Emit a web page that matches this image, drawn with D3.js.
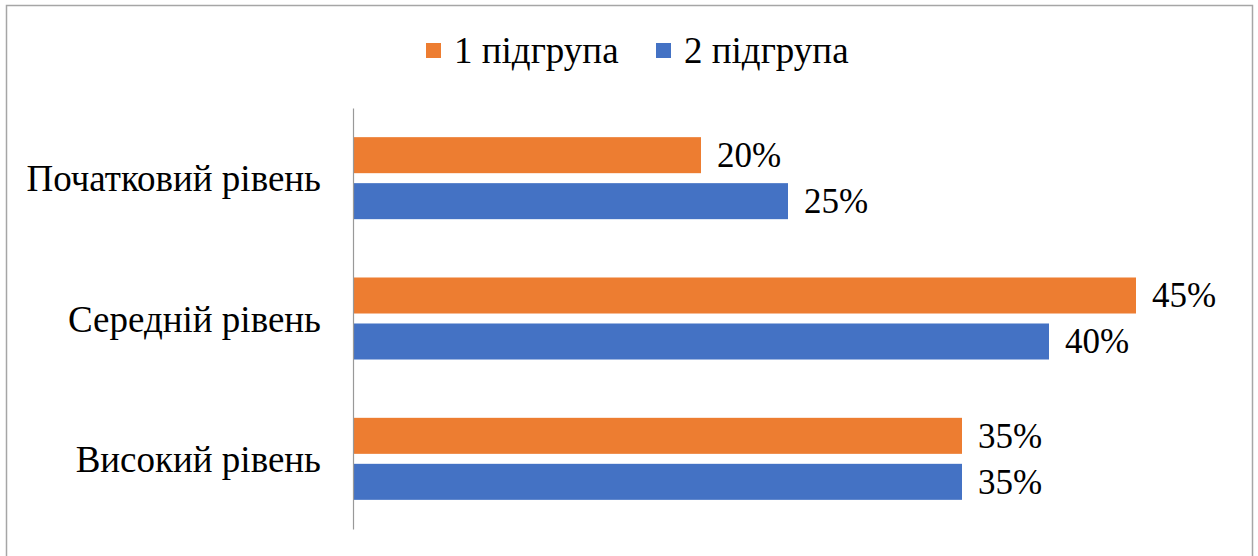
<!DOCTYPE html>
<html>
<head>
<meta charset="utf-8">
<script src="https://cdn.jsdelivr.net/npm/d3@7"></script>
<style>
  body { margin: 0; background: #fff; }
</style>
</head>
<body>
<svg id="svg" width="1258" height="556"></svg>
<script>
const WIDTH = 1258
const HEIGHT = 556
const FONT = '"Liberation Serif", "Times New Roman", serif'

const categories = ['Початковий рівень', 'Середній рівень', 'Високий рівень']
const seriesNames = ['1 підгрупа', '2 підгрупа']
const group1 = [0.20, 0.45, 0.35]
const group2 = [0.25, 0.40, 0.35]
const colors = ['#ED7D31', '#4472C4']

const series = [group1, group2]

const SVG = d3.select('#svg')
  .attr('font-family', FONT)

// chart border
SVG.append('rect')
  .attr('x', 6.5)
  .attr('y', 5.5)
  .attr('width', 1246)
  .attr('height', 560)
  .attr('fill', 'none')
  .attr('stroke', '#a6a6a6')
  .attr('stroke-width', 1.5)

const x = d3.scaleLinear()
  .domain([0, 0.5])
  .range([353, 1223])

const y = d3.scaleBand()
  .domain(categories)
  .range([108, 529])

const ySub = d3.scaleBand()
  .domain(seriesNames)
  .range([0, y.bandwidth()])
  .paddingInner(0.217)
  .paddingOuter(0.634)

const fmt = d3.format('.0%')

const GROUPS = SVG.selectAll('g.cat')
  .data(categories)
  .enter()
  .append('g')
  .attr('class', 'cat')
  .attr('transform', d => `translate(0, ${y(d)})`)

GROUPS.selectAll('rect')
  .data((d, i) => seriesNames.map((s, j) => ({ s, v: series[j][i], j })))
  .enter()
  .append('rect')
  .attr('x', x(0))
  .attr('y', d => ySub(d.s))
  .attr('width', d => x(d.v) - x(0))
  .attr('height', ySub.bandwidth())
  .attr('fill', d => colors[d.j])

GROUPS.selectAll('text.val')
  .data((d, i) => seriesNames.map((s, j) => ({ s, v: series[j][i], j })))
  .enter()
  .append('text')
  .attr('class', 'val')
  .attr('x', d => x(d.v) + 16)
  .attr('y', d => ySub(d.s) + ySub.bandwidth() / 2 + 12)
  .attr('font-family', FONT)
  .attr('font-size', 35)
  .attr('fill', '#000')
  .text(d => fmt(d.v))

// category axis
const AXIS = SVG.append('g')
  .attr('transform', `translate(${x(0)}, 0)`)
  .call(d3.axisLeft(y).tickSize(0).tickSizeOuter(0).tickPadding(32))

AXIS.select('.domain').attr('stroke', '#999').attr('stroke-width', 1.2)
AXIS.selectAll('text')
  .attr('font-size', 37)
  .attr('font-family', FONT)
  .attr('fill', '#000')
  .attr('dy', 13)

// legend
const LEGEND = SVG.append('g')
const legendX = [426, 656]
LEGEND.selectAll('rect')
  .data(seriesNames)
  .enter()
  .append('rect')
  .attr('x', (d, i) => legendX[i])
  .attr('y', 43)
  .attr('width', 15)
  .attr('height', 15)
  .attr('fill', (d, i) => colors[i])

LEGEND.selectAll('text')
  .data(seriesNames)
  .enter()
  .append('text')
  .attr('x', (d, i) => legendX[i] + 28)
  .attr('y', 63)
  .attr('font-family', FONT)
  .attr('font-size', 37)
  .attr('fill', '#000')
  .text(d => d)
</script>
</body>
</html>
